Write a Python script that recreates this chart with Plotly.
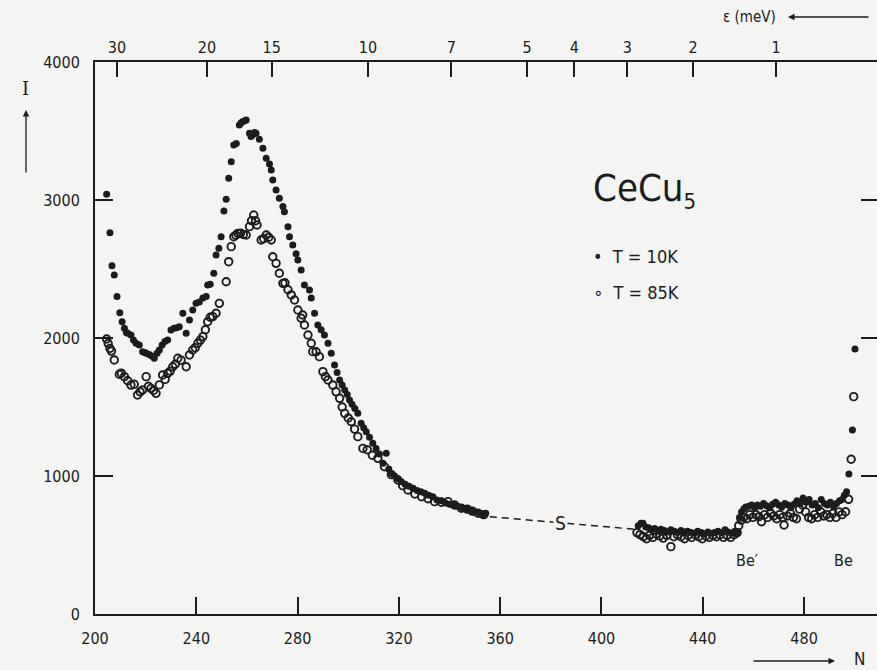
import plotly.graph_objects as go

# ---------------- data ----------------
# T = 10 K (filled dots): channel number N and intensity I
n_10k = [204.6, 205.9, 206.7, 207.6, 208.7, 209.8, 210.7, 211.6, 212.4, 212.9, 214.2, 215.2,
         216.2, 217.5, 218.8, 219.6, 220.2, 221.4, 222.4, 223.4, 224.5, 225.4, 226.5, 227.6,
         228.7, 230.0, 231.2, 232.3, 233.3, 234.7, 236.0, 237.3, 238.6, 239.9, 241.2, 242.6,
         243.9, 244.5, 245.5, 246.9, 247.8, 248.9, 249.8, 250.9, 251.8, 252.8, 253.8, 254.8,
         255.8, 257.0, 257.7, 258.4, 259.1, 259.7, 261.0, 261.6, 262.3, 263.0, 263.6, 264.9,
         266.3, 267.6, 268.9, 269.6, 270.2, 271.5, 272.8, 274.2, 274.8, 276.2, 276.8, 278.1,
         279.4, 280.1, 281.4, 282.7, 284.7, 285.4, 286.7, 288.0, 289.3, 290.6, 292.0, 293.3,
         294.6, 295.6, 296.6, 297.6, 298.6, 299.6, 300.5, 301.5, 302.6, 303.8, 305.1, 306.1,
         307.1, 308.4, 309.7, 311.0, 312.3, 313.7, 315.0, 316.0, 317.0, 318.3, 319.6, 321.0,
         322.5, 324.0, 325.6, 327.2, 328.7, 330.2, 331.8, 333.4, 335.0, 336.7, 338.4, 340.0,
         341.5, 343.2, 345.0, 346.5, 348.2, 349.8, 351.4, 353.0, 354.3,
         414.5, 415.6, 416.4, 417.5, 418.6, 419.8, 421.0, 422.3, 423.5, 424.8, 426.0, 427.4,
         428.8, 430.0, 431.4, 432.7, 434.0, 435.4, 436.8, 438.0, 439.4, 440.7, 442.0, 443.4,
         444.7, 446.0, 447.4, 448.8, 450.0, 451.3, 452.6, 453.8,
         454.5, 455.3, 456.2, 457.0, 458.2, 459.3, 460.5, 461.6, 462.8, 464.0, 465.2, 466.4,
         467.6, 468.8, 470.0, 471.2, 472.4, 473.6, 474.8, 476.0, 477.2, 478.4, 479.6, 480.8,
         482.0, 483.2, 484.4, 485.6, 486.8, 488.0, 489.2, 490.4, 491.6, 492.8, 494.0, 495.0,
         495.9, 496.8, 497.7, 499.1, 500.1]
i_10k = [3041, 2763, 2524, 2456, 2300, 2183, 2118, 2070, 2040, 2034, 2022, 1985,
         1962, 1949, 1901, 1895, 1889, 1880, 1870, 1853, 1890, 1913, 1950, 1975,
         1986, 2058, 2070, 2075, 2082, 2179, 2034, 2130, 2203, 2251, 2260, 2290,
         2300, 2384, 2390, 2469, 2601, 2650, 2734, 2920, 3005, 3157, 3278, 3399,
         3410, 3543, 3560, 3568, 3575, 3580, 3483, 3460, 3471, 3490, 3483, 3440,
         3375, 3302, 3260, 3217, 3145, 3072, 3012, 2952, 2915, 2807, 2734, 2674,
         2610, 2565, 2493, 2384, 2348, 2290, 2179, 2094, 2060, 2022, 1962, 1889,
         1804, 1750, 1696, 1660, 1623, 1590, 1551, 1520, 1490, 1454, 1382, 1350,
         1321, 1280, 1237, 1200, 1160, 1092, 1164, 1050, 1019, 1000, 980, 959,
         940, 925, 911, 895, 885, 875, 860, 850, 826, 820, 805, 795,
         790, 780, 770, 760, 750, 740, 735, 717, 730,
         640, 657, 657, 630, 625, 610, 620, 600, 615, 605, 595, 610,
         600, 590, 605, 595, 600, 590, 585, 600, 590, 580, 595, 585,
         590, 600, 590, 610, 595, 585, 600, 590,
         700, 740, 760, 775, 780, 790, 770, 790, 780, 800, 785, 770,
         795, 810, 790, 775, 800, 790, 770, 795, 820, 800, 840, 810,
         830, 790, 800, 770, 830, 800, 790, 810, 780, 800, 820, 830,
         860, 886, 1014, 1333, 1920]

# T = 85 K (open circles)
n_85k = [204.6, 205.2, 205.9, 206.5, 207.6, 209.6, 210.4, 211.6, 212.9, 214.2, 215.5, 216.8,
         217.8, 218.8, 220.2, 221.1, 222.1, 223.1, 224.1, 225.4, 226.7, 227.7, 228.7, 229.7,
         230.7, 231.7, 232.7, 234.0, 236.0, 237.3, 238.6, 239.6, 240.6, 241.6, 242.6, 243.6,
         244.5, 245.5, 246.5, 247.8, 249.1, 251.8, 252.8, 253.8, 254.8, 255.6, 256.4, 257.5,
         258.6, 259.7, 261.0, 261.8, 262.7, 263.4, 264.0, 265.6, 266.6, 267.6, 268.6, 269.6,
         270.2, 271.5, 272.8, 274.2, 275.0, 276.2, 277.5, 278.8, 280.1, 281.4, 282.0, 282.7,
         284.1, 285.4, 286.0, 287.3, 288.6, 290.0, 291.0, 292.0, 293.9, 295.2, 296.6, 297.6,
         298.6, 300.0, 301.2, 302.5, 303.8, 305.8, 307.5, 309.5, 311.7, 314.3, 317.0, 319.6,
         321.5, 323.6, 326.3, 329.0, 331.5, 334.1, 336.8, 339.4, 342.0, 344.7, 347.0, 349.0,
         351.3, 353.5,
         414.0, 415.2, 416.5, 417.8, 419.0, 420.3, 421.6, 423.0, 424.4, 425.8, 427.4, 428.6,
         430.0, 431.4, 432.8, 434.2, 435.6, 437.0, 438.4, 439.8, 441.2, 442.6, 444.0, 445.4,
         446.8, 448.2, 449.6, 451.0, 452.4, 453.6,
         454.2, 455.2, 456.2, 457.4, 458.6, 459.8, 461.0, 462.2, 463.2, 464.4, 465.6, 466.8,
         468.0, 469.2, 470.4, 471.6, 472.1, 473.4, 474.6, 475.8, 477.0, 478.2, 479.4, 480.6,
         481.8, 483.0, 484.2, 485.4, 486.6, 487.8, 489.0, 490.2, 491.4, 492.6, 493.8, 495.0,
         496.4, 497.6, 498.6, 499.6]
i_85k = [1993, 1960, 1925, 1905, 1841, 1737, 1745, 1720, 1690, 1659, 1665, 1587,
         1610, 1623, 1720, 1650, 1635, 1620, 1599, 1660, 1732, 1700, 1744, 1760,
         1792, 1810, 1853, 1840, 1792, 1877, 1913, 1930, 1962, 1985, 2010, 2060,
         2118, 2150, 2155, 2179, 2251, 2408, 2553, 2662, 2734, 2745, 2758, 2760,
         2750, 2746, 2807, 2850, 2891, 2850, 2819, 2710, 2720, 2746, 2730, 2710,
         2589, 2541, 2469, 2396, 2400, 2350, 2312, 2275, 2203, 2143, 2167, 2094,
         2022, 1962, 1901, 1900, 1865, 1756, 1720, 1696, 1659, 1610, 1563, 1500,
         1454, 1420, 1393, 1340, 1285, 1200, 1190, 1150, 1128, 1067, 1010, 971,
         930, 899, 870, 850, 835, 814, 810, 814, 790, 766, 760, 745,
         730, 720,
         590, 575, 560, 545, 570, 555, 580, 565, 550, 570, 488, 560,
         575, 560, 545, 570, 555, 575, 560, 545, 565, 555, 570, 560,
         575, 555, 570, 555, 575, 590,
         640, 680, 700, 690, 720, 700, 720, 705, 669, 720, 700, 730,
         710, 690, 720, 700, 645, 710, 730, 700, 690, 760, 790, 740,
         700, 690, 720, 700, 740, 710, 720, 700, 730, 700, 740, 720,
         741, 831, 1121, 1575]

# dashed interpolation through the gap ("S")
gap_left_n = [355.9, 381.3]
gap_left_i = [705, 665]
gap_right_n = [386.4, 413.2]
gap_right_i = [657, 614]

# axes
n_ticks = [200, 240, 280, 320, 360, 400, 440, 480]
i_ticks = [0, 1000, 2000, 3000, 4000]
energy_labels = ["30", "20", "15", "10", "7", "5", "4", "3", "2", "1"]
energy_positions_n = [208.7, 244.2, 269.8, 307.8, 340.7, 370.6, 389.3, 410.2, 436.2, 468.9]

X_RANGE = [200, 508.8]
Y_RANGE = [0, 4000]

INK = "#1c1c1c"
BG = "#f4f4f2"
FONT = "DejaVu Sans Condensed, Liberation Sans Narrow, Arial Narrow, sans-serif"

M_L, M_T, W, H = 95, 62, 877, 670
M_B = 56
PW, PH = W - M_L, H - M_T - M_B


def px(xp):
    return (xp - M_L) / PW


def py(yp):
    return (H - M_B - yp) / PH


fig = go.Figure()

fig.add_trace(go.Scatter(x=gap_left_n, y=gap_left_i, mode="lines",
                         line=dict(color=INK, width=1.5, dash="7px,5px"),
                         showlegend=False, hoverinfo="skip"))
fig.add_trace(go.Scatter(x=gap_right_n, y=gap_right_i, mode="lines",
                         line=dict(color=INK, width=1.5, dash="7px,5px"),
                         showlegend=False, hoverinfo="skip"))

fig.add_trace(go.Scatter(x=n_85k, y=i_85k, mode="markers", name="T = 85K",
                         marker=dict(symbol="circle-open", size=7.5, color=INK,
                                     line=dict(width=1.9, color=INK)),
                         showlegend=False))
fig.add_trace(go.Scatter(x=n_10k, y=i_10k, mode="markers", name="T = 10K",
                         marker=dict(symbol="circle", size=7, color=INK),
                         showlegend=False))

# top (energy) axis: invisible helper trace to activate it
fig.add_trace(go.Scatter(x=[X_RANGE[0]], y=[Y_RANGE[0]], xaxis="x2", yaxis="y",
                         mode="markers", marker=dict(opacity=0), showlegend=False,
                         hoverinfo="skip"))
# right-side ticks helper
fig.add_trace(go.Scatter(x=[X_RANGE[0]], y=[Y_RANGE[0]], xaxis="x", yaxis="y2",
                         mode="markers", marker=dict(opacity=0), showlegend=False,
                         hoverinfo="skip"))

axis_font = dict(family=FONT, size=16, color=INK)

fig.update_layout(
    width=W, height=H,
    margin=dict(l=M_L, r=0, t=M_T, b=M_B),
    paper_bgcolor=BG, plot_bgcolor=BG,
    font=dict(family=FONT, size=16, color=INK),
    xaxis=dict(range=X_RANGE, tickvals=n_ticks, ticks="inside", ticklen=17, tickwidth=1.6,
               tickcolor=INK, showline=True, linecolor=INK, linewidth=2,
               showgrid=False, zeroline=False, tickfont=axis_font,
               ticklabelstandoff=9),
    xaxis2=dict(range=X_RANGE, overlaying="x", side="top", anchor="y",
                tickvals=energy_positions_n, ticktext=energy_labels,
                ticks="inside", ticklen=15, tickwidth=1.6, tickcolor=INK,
                showline=True, linecolor=INK, linewidth=2, showgrid=False,
                zeroline=False, tickfont=axis_font, ticklabelstandoff=1),
    yaxis=dict(range=Y_RANGE, tickvals=i_ticks, ticks="inside", ticklen=18, tickwidth=1.6,
               tickcolor=INK, showline=True, linecolor=INK, linewidth=2,
               showgrid=False, zeroline=False, tickfont=axis_font,
               ticklabelstandoff=10),
    yaxis2=dict(range=Y_RANGE, overlaying="y", side="right", anchor="x",
                tickvals=i_ticks, ticks="inside", ticklen=16, tickwidth=1.6,
                tickcolor=INK, showline=False, showticklabels=False,
                showgrid=False, zeroline=False),
)


def label(xp, yp, text, size, family=FONT, xanchor="center"):
    fig.add_annotation(x=px(xp), y=py(yp), xref="paper", yref="paper", text=text,
                       showarrow=False, xanchor=xanchor, yanchor="middle",
                       font=dict(family=family, size=size, color=INK))


# in-plot labels (data coordinates)
fig.add_annotation(x=383.8, y=660, xref="x", yref="y", text="S", showarrow=False,
                   xanchor="center", yanchor="middle",
                   font=dict(family=FONT, size=19, color=INK), bgcolor=BG)
fig.add_annotation(x=457.3, y=390, xref="x", yref="y", text="Be′", showarrow=False,
                   xanchor="center", yanchor="middle",
                   font=dict(family=FONT, size=16, color=INK))
fig.add_annotation(x=495.4, y=390, xref="x", yref="y", text="Be", showarrow=False,
                   xanchor="center", yanchor="middle",
                   font=dict(family=FONT, size=16, color=INK))

label(591, 190, "CeCu<sub><span style='font-size:22px'>5</span></sub>", 38,
      xanchor="left")
label(591, 256, "•  T = 10K", 18, xanchor="left")
label(591, 292, "∘  T = 85K", 18, xanchor="left")

# y-axis label "I" with upward arrow
label(25, 88, "I", 18, family="DejaVu Serif, serif")
fig.add_annotation(x=px(26), y=py(110), xref="paper", yref="paper", text="",
                   showarrow=True, ax=0, ay=64, arrowhead=2, arrowsize=1, arrowwidth=1.3,
                   arrowcolor=INK)

# top-right energy label with leftward arrow
label(749, 17, "ε (meV)", 15)
fig.add_annotation(x=px(788), y=py(17), xref="paper", yref="paper",
                   text="", showarrow=True, ax=82, ay=0, arrowhead=2, arrowsize=1,
                   arrowwidth=1.3, arrowcolor=INK)

# bottom-right N label with rightward arrow
fig.add_annotation(x=px(835), y=py(661), xref="paper", yref="paper",
                   text="", showarrow=True, ax=-83, ay=0, arrowhead=2, arrowsize=1,
                   arrowwidth=1.3, arrowcolor=INK)
label(859, 659, "N", 17)

fig.write_html("out.html", config={"displayModeBar": False},
               post_script="document.body.style.margin='0px';document.body.style.padding='0px';")
